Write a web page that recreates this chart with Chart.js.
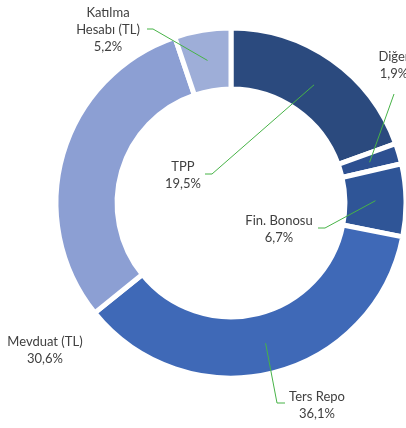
<!DOCTYPE html>
<html>
<head>
<meta charset="utf-8">
<script src="https://cdn.jsdelivr.net/npm/chart.js@4"></script>
<style>
  html, body { margin: 0; padding: 0; background: #fff; }
</style>
</head>
<body>
<canvas id="portfolioChart" width="406" height="428"></canvas>
<script>
// Portfolio distribution (%)
const categories = ['TPP', 'Diğer', 'Fin. Bonosu', 'Ters Repo', 'Mevduat (TL)', ['Katılma', 'Hesabı (TL)']];
const shares = [19.5, 1.9, 6.7, 36.1, 30.6, 5.2];
const sliceColors = ['#2b4a7e', '#2d5091', '#2f5597', '#3f69b7', '#8c9fd3', '#9eaed8'];

// label placement + leader line start/elbow (null = no leader line)
const labelSpots = [
    { x: 183, y: 167, from: [205, 174], elbow: [212, 174] },
    { x: 394, y: 57,  from: [394, 94],  elbow: null },
    { x: 279, y: 221, from: [318, 228], elbow: [325, 228] },
    { x: 317, y: 397, from: [285, 403], elbow: [277, 403] },
    { x: 45,  y: 342, from: null,       elbow: null },
    { x: 108, y: 13,  from: [147, 29],  elbow: [153, 29] }
];

const leaderLabels = {
    id: 'leaderLabels',
    afterDatasetsDraw(chart) {
        const c = chart.ctx;
        const arcs = chart.getDatasetMeta(0).data;
        c.save();
        c.font = '13px Lato';
        c.fillStyle = '#404040';
        c.textAlign = 'center';
        c.textBaseline = 'middle';
        arcs.forEach((arc, i) => {
            const spot = labelSpots[i];
            const lines = [].concat(categories[i]);
            lines.push(shares[i].toFixed(1).replace('.', ',') + '%');
            lines.forEach((t, k) => c.fillText(t, spot.x, spot.y + k * 17));

            if (spot.from) {
                const p = arc.getCenterPoint(); // mid angle, mid radius of the slice
                c.beginPath();
                c.strokeStyle = '#47b347';
                c.lineWidth = 1;
                c.moveTo(spot.from[0], spot.from[1]);
                if (spot.elbow) c.lineTo(spot.elbow[0], spot.elbow[1]);
                c.lineTo(p.x, p.y);
                c.stroke();
            }
        });
        c.restore();
    }
};

const ctx = document.getElementById('portfolioChart').getContext('2d');
new Chart(ctx, {
    type: 'doughnut',
    data: {
        labels: categories,
        datasets: [{
            data: shares,
            backgroundColor: sliceColors,
            borderColor: '#ffffff',
            borderWidth: 5,
            radius: 175,
            cutout: '65.1%'
        }]
    },
    options: {
        responsive: false,
        animation: false,
        layout: { padding: { left: 56, right: 0, top: 0, bottom: 22 } },
        plugins: {
            legend: { display: false },
            tooltip: { enabled: false }
        }
    },
    plugins: [leaderLabels]
});
</script>
</body>
</html>
